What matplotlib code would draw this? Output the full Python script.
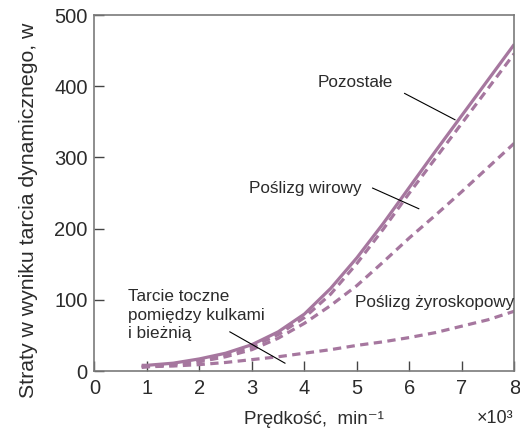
import matplotlib
matplotlib.use("Agg")
import matplotlib.pyplot as plt

plt.rcParams["font.family"] = ["Liberation Sans", "DejaVu Sans"]

# speed in 10^3 min^-1 and loss values
speed = [0.9, 1.0, 1.5, 2.0, 2.5, 3.0, 3.5, 4.0, 4.5, 5.0, 5.5, 6.0, 6.5, 7.0, 7.5, 8.0]
total = [8, 8, 11, 17, 25, 37, 55, 80, 116, 159, 207, 258, 309, 359, 409, 459]
upper_dash = [7, 7, 10, 15, 23, 34, 51, 75, 108, 151, 199, 250, 299, 348, 397, 446]
spin_slip = [6, 6, 9, 13, 20, 30, 46, 67, 92, 120, 153, 187, 219, 252, 286, 320]
gyro_slip = [5, 6, 7, 9, 12, 16, 20, 25, 30, 36, 41, 47, 54, 63, 72, 84]

xticks = [0, 1, 2, 3, 4, 5, 6, 7, 8]
yticks = [0, 100, 200, 300, 400, 500]

CURVE = "#a6779f"
TXT = "#2b2b2b"
SPINE = "#7a7a7a"

fig = plt.figure(figsize=(5.2, 4.32), dpi=100)
ax = fig.add_axes([0.1817, 0.1412, 0.8073, 0.8238])

ax.plot(speed, total, color=CURVE, lw=2.3, solid_capstyle="butt")
for ys in (upper_dash, spin_slip, gyro_slip):
    ax.plot(speed, ys, color=CURVE, lw=2.3, dashes=(2.6, 1.7))

ax.set_xlim(0, 8)
ax.set_ylim(0, 500)
ax.set_xticks(xticks)
ax.set_yticks(yticks)
ax.tick_params(direction="in", length=7, width=1, color="#444444",
               labelsize=14.5, labelcolor=TXT, pad=6)
ax.tick_params(axis="y", pad=5)
for sp in ax.spines.values():
    sp.set_color(SPINE)
    sp.set_linewidth(1.2)

fig.text(0.054, 0.514, "Straty w wyniku tarcia dynamicznego, w", fontsize=15.3,
         color=TXT, rotation=90, ha="center", va="center")
fig.text(0.603, 0.030, "Prędkość,  min⁻¹", fontsize=13.5, color=TXT, ha="center", va="center")
fig.text(0.987, 0.032, "×10³", fontsize=13, color=TXT, ha="right", va="center")

# labels with leader lines
ax.text(4.26, 406, "Pozostałe", fontsize=12.3, color=TXT, va="center")
ax.plot([5.91, 6.87], [390, 353], color="black", lw=0.8)

ax.text(5.10, 257, "Poślizg wirowy", fontsize=12.3, color=TXT, va="center", ha="right")
ax.plot([5.30, 6.18], [257, 228], color="black", lw=0.8)

ax.text(4.96, 96, "Poślizg żyroskopowy", fontsize=12.3, color=TXT, va="center")

ax.text(0.64, 115, "Tarcie toczne\npomiędzy kulkami\ni bieżnią", fontsize=12.3,
        color=TXT, va="top", linespacing=1.3)
ax.plot([2.58, 3.63], [55, 11], color="black", lw=0.8)

fig.savefig("out.png", dpi=100, facecolor="white")
